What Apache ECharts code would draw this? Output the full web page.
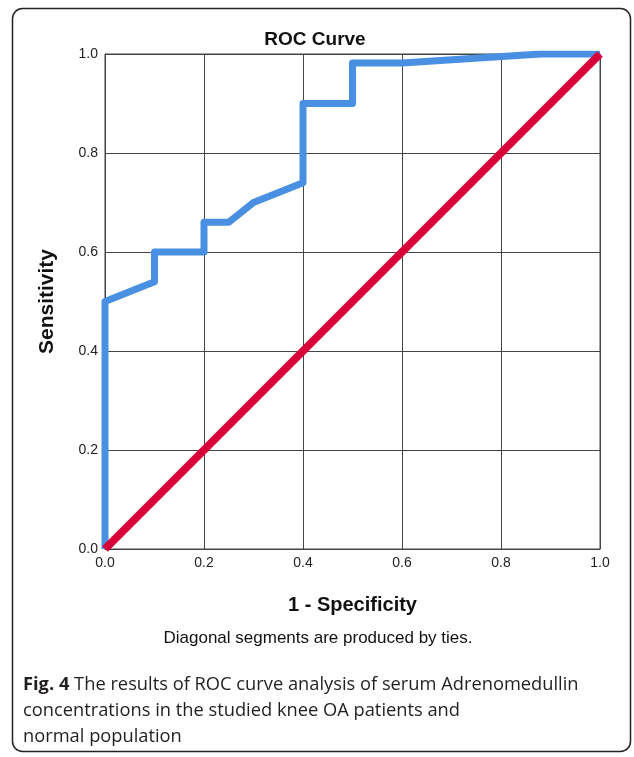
<!DOCTYPE html>
<html>
<head>
<meta charset="utf-8">
<script src="https://cdn.jsdelivr.net/npm/echarts@6/dist/echarts.min.js"></script>
<style>
  html, body { margin: 0; padding: 0; background: #fff; }
  #chart { width: 634px; height: 757px; }
</style>
</head>
<body>
<div id="chart"></div>
<script>
// ROC curve points: [1 - specificity, sensitivity]
const rocX = [0, 0, 0.1, 0.1, 0.2, 0.2, 0.25, 0.3, 0.4, 0.4, 0.5, 0.5, 0.6, 0.88, 1.0]
const rocY = [0, 0.5, 0.54, 0.6, 0.6, 0.66, 0.66, 0.7, 0.74, 0.9, 0.9, 0.982, 0.982, 1.0, 1.0]
const refX = [0, 1]
const refY = [0, 1]
const tickLabels = ['0.0', '0.2', '0.4', '0.6', '0.8', '1.0']

const font = '"Liberation Sans", Arial, sans-serif'
const capFont = '"Open Sans", "Noto Sans", sans-serif'

const chart = echarts.init(document.getElementById('chart'))

const axisCommon = {
  type: 'value',
  min: 0,
  max: 1,
  interval: 0.2,
  axisLine: { show: true, lineStyle: { color: '#444', width: 1 } },
  axisTick: { show: false },
  splitLine: { show: true, lineStyle: { color: '#444', width: 1 } },
  axisLabel: {
    color: '#222',
    fontFamily: font,
    fontSize: 14,
    margin: 7,
    formatter: v => tickLabels[Math.round(v * 5)]
  }
}

const nameStyle = { fontFamily: font, fontSize: 20, fontWeight: 'bold', color: '#111' }

const option = {
  animation: false,
  backgroundColor: '#fff',
  title: {
    text: 'ROC Curve',
    left: 310,
    top: 25,
    textAlign: 'center',
    textStyle: { fontFamily: font, fontSize: 19, fontWeight: 'bold', color: '#111' }
  },
  grid: {
    left: 105,
    right: 34,
    top: 54,
    bottom: 208,
    show: true,
    borderColor: '#444',
    borderWidth: 1
  },
  xAxis: Object.assign({}, axisCommon, {
    name: '1 - Specificity',
    nameLocation: 'middle',
    nameGap: 46,
    nameTextStyle: nameStyle
  }),
  yAxis: Object.assign({}, axisCommon, {
    name: 'Sensitivity',
    nameLocation: 'middle',
    nameGap: 47,
    nameTextStyle: Object.assign({}, nameStyle, { fontSize: 21 })
  }),
  series: [
    {
      type: 'line',
      data: rocX.map((x, i) => [x, rocY[i]]),
      showSymbol: false,
      symbol: 'none',
      lineStyle: { color: '#4a90e2', width: 7, join: 'round' },
      z: 2
    },
    {
      type: 'line',
      data: refX.map((x, i) => [x, refY[i]]),
      showSymbol: false,
      symbol: 'none',
      lineStyle: { color: '#d8003a', width: 8 },
      z: 3
    }
  ],
  graphic: [
    {
      type: 'rect',
      shape: { x: 12.5, y: 8.5, width: 618, height: 743, r: 10 },
      style: { fill: null, stroke: '#222', lineWidth: 1.5 },
      silent: true
    },
    {
      type: 'text',
      x: 318,
      y: 630,
      style: {
        text: 'Diagonal segments are produced by ties.',
        fontFamily: font,
        fontSize: 17,
        fill: '#111',
        align: 'center',
        verticalAlign: 'top'
      }
    },
    {
      type: 'text',
      left: 23,
      top: 672,
      style: {
        text: '{b|Fig. 4} The results of ROC curve analysis of serum Adrenomedullin\nconcentrations in the studied knee OA patients and\nnormal population',
        fontFamily: capFont,
        fontSize: 18.3,
        lineHeight: 26,
        fill: '#231f20',
        rich: {
          b: { fontFamily: capFont, fontSize: 18.3, fontWeight: 'bold', fill: '#231f20' }
        }
      }
    }
  ]
}

chart.setOption(option)
</script>
</body>
</html>
